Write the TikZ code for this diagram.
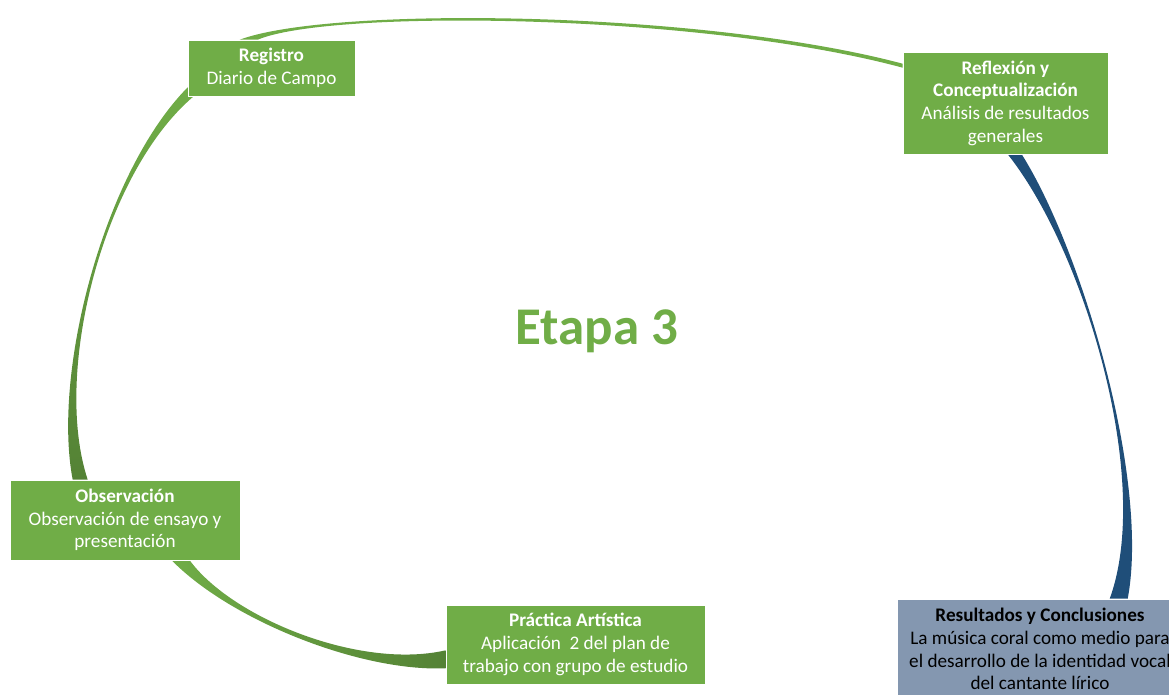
\documentclass[tikz,border=0pt]{standalone}
\usepackage{fontspec}
\setmainfont{Carlito}
\usetikzlibrary{calc}
\usetikzlibrary{backgrounds}
\definecolor{mgreen}{HTML}{70AD47}
\definecolor{dgreen}{HTML}{548235}
\definecolor{mblue}{HTML}{1F4E79}
\definecolor{mslate}{HTML}{8497B0}
\tikzset{box/.style = {rectangle, inner sep = 0, align = center,
                       draw = white, line width = 0.6pt,
                       font = \fontsize{19.2}{22.7}\selectfont}}
\tikzset{greenbox/.style = {box, fill = mgreen, text = white}}
\tikzset{resbox/.style = {box, fill = mslate, text = black}}

\begin{document}
\begin{tikzpicture}[x = 1pt, y = -1pt]
    \useasboundingbox (0, 0) rectangle (1169, 695);

    \node [text = mgreen, font = \fontsize{53}{60}\selectfont\bfseries] (etapa) at (597, 331) {Etapa 3};

    \node [greenbox, minimum width = 167, minimum height = 56] (reg) at (271.5, 68)
      {\textbf{Registro}\\Diario de Campo};
    \node [greenbox, minimum width = 205, minimum height = 102] (ref) at (1005.5, 103)
      {\textbf{Reflexión y}\\\textbf{Conceptualización}\\Análisis de resultados\\generales};
    \node [greenbox, minimum width = 230, minimum height = 80] (obs) at (125, 520)
      {\textbf{Observación}\\Observación de ensayo y\\presentación};
    \node [greenbox, minimum width = 259, minimum height = 79] (pra) at (575.5, 644.5)
      {\textbf{Práctica Artística}\\Aplicación\ \ 2 del plan de\\trabajo con grupo de estudio};
    \node [resbox, minimum width = 286, minimum height = 100] (res) at (1040, 649)
      {\textbf{Resultados y Conclusiones}\\La música coral como medio para\\el desarrollo de la identidad vocal\\del cantante lírico};

    \begin{scope}[on background layer]
      % Registro -> Reflexion
      \fill [mgreen] ($(reg.north west) + (52, 0)$) .. controls (330, 6) and (700, 10) .. ($(ref.north west) + (0, 12)$)
        -- ($(ref.north west) + (0, 16)$) .. controls (700, 13) and (330, 9) .. ($(reg.north west) + (70, 0)$) -- cycle;
      % Reflexion -> Resultados
      \fill [mblue] ($(ref.south west) + (119, 0)$) .. controls (1082, 250) and (1150, 480) .. ($(res.north west) + (231, 0)$)
        -- ($(res.north west) + (213, 0)$) .. controls (1153, 480) and (1084, 250) .. ($(ref.south west) + (105, 0)$) -- cycle;
      % Practica -> Observacion
      \shade [left color = mgreen, middle color = mgreen, right color = dgreen]
        ($(obs.south west) + (162, 0)$) .. controls (230, 620) and (360, 672) .. ($(pra.south west) + (0, -16)$)
        -- ($(pra.south west) + (0, -34)$) .. controls (360, 670) and (232, 618) .. ($(obs.south west) + (180, 0)$) -- cycle;
      % Observacion -> Registro
      \shade [top color = mgreen, middle color = mgreen, bottom color = dgreen]
        ($(obs.north west) + (63, 0)$) .. controls (52, 372) and (104, 172) .. ($(reg.south west) + (0, -9)$)
        -- ($(reg.south west) + (6, 0)$) .. controls (104, 172) and (52, 372) .. ($(obs.north west) + (78, 0)$) -- cycle;
    \end{scope}
\end{tikzpicture}
\end{document}
